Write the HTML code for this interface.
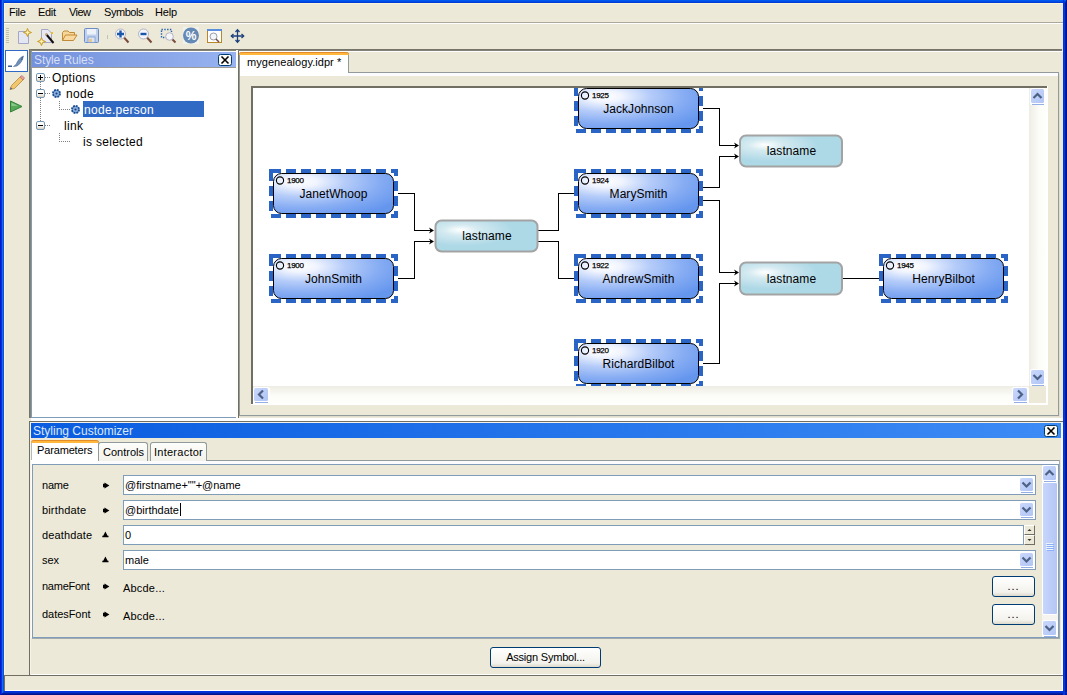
<!DOCTYPE html>
<html>
<head>
<meta charset="utf-8">
<title>Style Rules</title>
<style>
html,body{margin:0;padding:0;}
body{width:1067px;height:695px;overflow:hidden;background:#ECE9D8;font-family:"Liberation Sans",sans-serif;font-size:11px;color:#000;position:relative;}
.abs{position:absolute;box-sizing:content-box;}
.wb{position:absolute;z-index:50;}
.hl{position:absolute;height:1px;}
.vl{position:absolute;width:1px;}
.menu span{position:absolute;top:6px;font-size:11px;}
.t{position:absolute;white-space:nowrap;line-height:1.15;}
.tah{font-size:11px;}
.tr{font-size:12px;letter-spacing:0.3px;margin-top:2px;}
.trk{background:#F5F4EF;}
.trkv{background:linear-gradient(90deg,#EEEDE5,#F4F3EC 25%,#FCFCF9 60%,#FEFEFB);}
.trkh{background:linear-gradient(#EEEDE5,#F4F3EC 25%,#FCFCF9 60%,#FEFEFB);}
.tab2{background:linear-gradient(#FDFDFB,#F3F2EA);border:1px solid #919B9C;border-bottom:none;border-radius:3px 3px 0 0;}
.fld{background:#fff;border:1px solid #7F9DB9;}
.spn{width:9px;height:8px;border:1px solid #fff;border-right-color:#716F64;border-bottom-color:#716F64;background:#ECE9D8;}
.xbtn{border:1px solid #003C74;border-radius:3px;background:linear-gradient(#FFFFFF,#F3F2EC 80%,#DCD8CB);text-align:center;font-size:11px;line-height:19px;letter-spacing:-0.2px;}
</style>
</head>
<body>
<div class="wb" style="left:0;top:0px;width:1067px;height:1px;background:#0058EE"></div>
<div class="wb" style="left:0;top:1px;width:1067px;height:1px;background:#004CE4"></div>
<div class="wb" style="left:0;top:2px;width:1067px;height:1px;background:#003DD7"></div>
<div class="wb" style="left:0;top:691px;width:1067px;height:1px;background:#0033E0"></div>
<div class="wb" style="left:0;top:692px;width:1067px;height:1px;background:#002FD0"></div>
<div class="wb" style="left:0;top:693px;width:1067px;height:1px;background:#0020A8"></div>
<div class="wb" style="left:0;top:694px;width:1067px;height:1px;background:#00138C"></div>
<div class="wb" style="left:0px;top:0;width:1px;height:695px;background:#0019CF"></div>
<div class="wb" style="left:1px;top:0;width:1px;height:694px;background:#0831D9"></div>
<div class="wb" style="left:2px;top:0;width:1px;height:693px;background:#166AEE"></div>
<div class="wb" style="left:3px;top:0;width:1px;height:692px;background:#0855DD"></div>
<div class="wb" style="left:1063px;top:0px;width:1px;height:695px;background:#0033E0"></div>
<div class="wb" style="left:1064px;top:1px;width:1px;height:694px;background:#003DD8"></div>
<div class="wb" style="left:1065px;top:2px;width:1px;height:693px;background:#0019A8"></div>
<div class="wb" style="left:1066px;top:0px;width:1px;height:692px;background:#00138C"></div>
<div class="hl" style="left:4px;top:3px;width:1059px;background:#FBF3DC"></div>
<div class="vl" style="left:4px;top:3px;height:672px;background:#FBF3DC"></div>

<!-- menu bar -->
<div class="menu">
<span style="left:9px;letter-spacing:-0.3px">File</span>
<span style="left:38px;letter-spacing:-0.3px">Edit</span>
<span style="left:69px;letter-spacing:-0.55px">View</span>
<span style="left:104px;letter-spacing:-0.45px">Symbols</span>
<span style="left:155px;letter-spacing:-0.15px">Help</span>
</div>
<div class="hl" style="left:4px;top:22px;width:1059px;background:#ACA899"></div>
<div class="hl" style="left:4px;top:23px;width:1059px;background:#fff"></div>

<!-- toolbar -->
<svg class="abs" style="left:4px;top:24px" width="250" height="24" viewBox="4 24 250 24">
  <!-- grip -->
  <g stroke="#C2BFAF" stroke-width="1" shape-rendering="crispEdges">
    <line x1="6" y1="28.5" x2="9" y2="28.5"/><line x1="6" y1="30.5" x2="9" y2="30.5"/><line x1="6" y1="32.5" x2="9" y2="32.5"/><line x1="6" y1="34.5" x2="9" y2="34.5"/><line x1="6" y1="36.5" x2="9" y2="36.5"/><line x1="6" y1="38.5" x2="9" y2="38.5"/><line x1="6" y1="40.5" x2="9" y2="40.5"/><line x1="6" y1="42.5" x2="9" y2="42.5"/>
  </g>
  <!-- new -->
  <path d="M18.5 31.5 H26 V34 H28.5 V43.5 H18.5 Z" fill="#E4E6F4" stroke="#A4A8C4"/>
  <path d="M27.5 28.5 L28.6 31.4 L31.5 32.5 L28.6 33.6 L27.5 36.5 L26.4 33.6 L23.5 32.5 L26.4 31.4 Z" fill="#FFF2B0" stroke="#C79A24" stroke-width="1"/>
  <!-- wizard -->
  <path d="M41.5 29.5 H48 L51.5 33 V42.5 H41.5 Z" fill="#E8E8F2" stroke="#A4A8C4"/>
  <path d="M46 34 L53.5 43" stroke="#111" stroke-width="2"/>
  <path d="M45.5 33.5 L47 35.2" stroke="#C8A878" stroke-width="2"/>
  <path d="M51 32 L53 34 M53 32 L51 34" stroke="#E8C020" stroke-width="1"/>
  <path d="M41.5 37.5 L42.6 40.4 L45.5 41.5 L42.6 42.6 L41.5 45.5 L40.4 42.6 L37.5 41.5 L40.4 40.4 Z" fill="#FFF2B0" stroke="#C79A24" stroke-width="1"/>
  <!-- open folder -->
  <path d="M62.500 40.500 V32.500 L64 31 H68 L69.500 32.500 H74.500 V35" fill="#F6D79A" stroke="#C28A34"/>
  <path d="M62.500 40.500 L65.500 35 H77 L73.500 40.500 Z" fill="#F9D9A0" stroke="#C28A34"/>
  <!-- save -->
  <rect x="84.500" y="28.500" width="14" height="14" rx="1" fill="#BFD0EC" stroke="#6C8CC8"/>
  <rect x="87" y="29" width="9" height="5.500" fill="#EDF1F8"/>
  <rect x="88" y="37" width="7" height="5.500" fill="#DCE4F0" stroke="#7F9AD0" stroke-width="0.800"/>
  <rect x="89" y="39" width="3" height="3" fill="#E8C890"/>
  <line x1="107.500" y1="35" x2="107.500" y2="39" stroke="#C5C2B2"/>
  <!-- zoom in -->
  <line x1="124" y1="37.500" x2="128.500" y2="42.500" stroke="#7B4B3A" stroke-width="2"/>
  <circle cx="120.500" cy="34" r="5" fill="#F4F6FA" stroke="#B4B4C6"/>
  <path d="M117 34 H124 M120.500 30.500 V37.500" stroke="#1B56A8" stroke-width="2.400"/>
  <!-- zoom out -->
  <line x1="147" y1="37.500" x2="151.500" y2="42.500" stroke="#7B4B3A" stroke-width="2"/>
  <circle cx="143.500" cy="34" r="5" fill="#F4F6FA" stroke="#B4B4C6"/>
  <path d="M140.500 34 H146.500" stroke="#1B56A8" stroke-width="2.400"/>
  <!-- zoom box -->
  <rect x="161.500" y="29.500" width="10" height="8" fill="none" stroke="#2A64B4" stroke-width="1.400" stroke-dasharray="1.400 1.400"/>
  <line x1="172" y1="39" x2="175.500" y2="42.500" stroke="#7B4B3A" stroke-width="2"/>
  <circle cx="169.500" cy="36.500" r="3.800" fill="#F4F6FA" stroke="#B4B4C6"/>
  <!-- percent -->
  <rect x="183" y="27" width="16" height="17" fill="#F2F2EC"/>
  <circle cx="191" cy="35.500" r="8" fill="#6389B4"/>
  <text x="191" y="40" font-size="12" font-weight="bold" fill="#fff" text-anchor="middle" font-family="Liberation Sans, sans-serif">%</text>
  <!-- fit -->
  <rect x="207.500" y="29.500" width="14" height="13" fill="#fff" stroke="#B8862C"/>
  <rect x="207" y="29" width="15" height="2" fill="#5B8EDC"/>
  <circle cx="213.500" cy="36.500" r="3.500" fill="#F4F6FA" stroke="#9C9CA8"/>
  <line x1="216" y1="39" x2="219" y2="42" stroke="#7B4B3A" stroke-width="1.500"/>
  <!-- move -->
  <g fill="none" stroke="#1D3F7E" stroke-width="1.300">
    <path d="M237.500 30 V42 M231.500 36 H243.500"/>
    <path d="M235.500 32 L237.500 29.800 L239.500 32 M235.500 40 L237.500 42.200 L239.500 40 M233.500 34 L231.300 36 L233.500 38 M241.500 34 L243.700 36 L241.500 38"/>
  </g>
</svg>
<!-- left tool strip -->
<div class="abs" style="left:5px;top:50px;width:21px;height:20px;background:#fff;border:1px solid #316AC5"></div>
<svg class="abs" style="left:4px;top:50px" width="26" height="66" viewBox="4 50 26 66">
  <!-- feather -->
  <path d="M23.500 56 C20 57 17.500 61 16 64.500 L13.500 66.500 L17 66 C20.500 64 22.500 60.500 23.500 56 Z" fill="#6F8FB8" stroke="#4F6F9C" stroke-width="0.600"/>
  <path d="M22.500 57 L21.500 59.500 L23 59" stroke="#3E5A84" stroke-width="0.800" fill="none"/>
  <rect x="8" y="65.500" width="4" height="1.500" fill="#3F5F94"/>
  <!-- pencil -->
  <path d="M10 89.500 L11.500 85.500 L20.500 76.500 L23.500 79.500 L14.500 88.500 Z" fill="#F2C66E" stroke="#B98A3A" stroke-width="0.800"/>
  <path d="M20 77 L22 75.500 L24.500 78 L23 80 Z" fill="#E8A0A0" stroke="#B06060" stroke-width="0.600"/>
  <path d="M10 89.500 L10.800 87.300 L12.300 88.800 Z" fill="#3A5A9A"/>
  <!-- play -->
  <path d="M10.500 101 L22 106.500 L10.500 112 Z" fill="#58A85C" stroke="#2F8436" stroke-width="1"/>
  <path d="M11.500 102.700 L18 105.800 L11.500 106 Z" fill="#8CCB8E"/>
</svg>

<!-- Style rules panel -->
<div class="hl" style="left:29px;top:49px;width:1033px;height:2px;background:linear-gradient(#716F64,#8A887A)"></div>
<div class="vl" style="left:29px;top:49px;width:2px;height:369px;background:linear-gradient(90deg,#716F64,#8A887A)"></div>
<div class="hl" style="left:31px;top:51px;width:1032px;background:#fff"></div>
<div class="abs" style="left:31px;top:51px;width:204px;height:366px;background:#fff;border-right:1px solid #A5ACB2;border-bottom:1px solid #7F9DB9;border-left:1px solid #7F9DB9"></div>
<div class="abs" id="rhdr" style="left:32px;top:52px;width:204px;height:15px;background:linear-gradient(90deg,#7391DC,#98B3F0);"></div>
<div class="hl" style="left:32px;top:67px;width:204px;height:1px;background:#9C9C90"></div>
<div class="t" style="left:34px;top:54px;font-size:12px;color:#D6DFF5;letter-spacing:-0.1px">Style Rules</div>
<svg class="abs" style="left:218px;top:54px" width="14" height="12" viewBox="0 0 14 12"><rect x="0.500" y="0.500" width="13" height="11" rx="2" fill="#FBFAF6" stroke="#003C74"/><path d="M3.500 2.500 L10.500 9.500 M10.500 2.500 L3.500 9.500" stroke="#000" stroke-width="1.600"/></svg>

<!-- tree -->
<svg class="abs" style="left:32px;top:68px" width="203" height="90" viewBox="32 68 203 90">
  <defs><linearGradient id="ebx" x1="0" y1="0" x2="0" y2="1"><stop offset="0" stop-color="#fff"/><stop offset="0.5" stop-color="#FBFAF7"/><stop offset="1" stop-color="#D4CCB8"/></linearGradient></defs>
  <g stroke="#808080" stroke-width="1" stroke-dasharray="1 1" fill="none" shape-rendering="crispEdges">
    <path d="M40.500 82 V89 M40.500 98 V121"/>
    <path d="M45 77.500 H50 M45 93.500 H50 M45 125.500 H50"/>
    <path d="M59.500 101 V109.500 H70"/>
    <path d="M59.500 133 V141.500 H70"/>
  </g>
  <g>
    <rect x="36.500" y="73.500" width="8" height="8" rx="1.500" fill="url(#ebx)" stroke="#7898B5"/>
    <path d="M38 77.500 H43 M40.500 75 V80" stroke="#000"/>
    <rect x="36.500" y="89.500" width="8" height="8" rx="1.500" fill="url(#ebx)" stroke="#7898B5"/>
    <path d="M38 93.500 H43" stroke="#000"/>
    <rect x="36.500" y="121.500" width="8" height="8" rx="1.500" fill="url(#ebx)" stroke="#7898B5"/>
    <path d="M38 125.500 H43" stroke="#000"/>
  </g>
  <g>
    <circle cx="56.500" cy="93.500" r="3.600" fill="#6C9AD2" stroke="#1A4A8C" stroke-width="1.700" stroke-dasharray="1.900 0.900"/>
    <circle cx="56.500" cy="93.500" r="1.900" fill="#5E8CC6" stroke="#A8C4E8" stroke-width="0.700"/>
    <circle cx="56.500" cy="93.500" r="0.800" fill="#1E3E70"/>
    <circle cx="75.500" cy="109.500" r="3.600" fill="#6C9AD2" stroke="#1A4A8C" stroke-width="1.700" stroke-dasharray="1.900 0.900"/>
    <circle cx="75.500" cy="109.500" r="1.900" fill="#5E8CC6" stroke="#A8C4E8" stroke-width="0.700"/>
    <circle cx="75.500" cy="109.500" r="0.800" fill="#1E3E70"/>
  </g>
</svg>
<div class="abs" style="left:83px;top:101px;width:121px;height:16px;background:#316AC5"></div>
<div class="t tr" style="left:52px;top:70px">Options</div>
<div class="t tr" style="left:66px;top:86px">node</div>
<div class="t tr" style="left:84px;top:102px;color:#fff">node.person</div>
<div class="t tr" style="left:64px;top:118px">link</div>
<div class="t tr" style="left:83px;top:134px">is selected</div>
<!-- main tab pane -->
<div class="vl" style="left:236px;top:50px;width:2px;height:368px;background:#FFFEF6"></div>
<div class="vl" style="left:238px;top:51px;width:1px;height:367px;background:#716F64"></div>
<div class="abs" style="left:239px;top:72px;width:818px;height:342px;border:1px solid #919B9C;border-right-color:#919B9C;box-sizing:content-box;background:#ECE9D8"></div>
<div class="abs" style="left:240px;top:73px;width:818px;height:3px;background:#FCFCFE"></div>
<div class="hl" style="left:240px;top:416px;width:820px;background:#E0DDCE"></div>
<div class="vl" style="left:1059px;top:74px;height:343px;background:#E0DDCE"></div>
<div class="abs" style="left:239px;top:52px;width:108px;height:21px;background:#fff;border:1px solid #919B9C;border-bottom:none;border-top:none;border-radius:3px 3px 0 0"></div>
<div class="abs" style="left:240px;top:72px;width:108px;height:4px;background:#fff"></div>
<div class="abs" style="left:239px;top:52px;width:110px;height:3px;background:#FFB83C;border-radius:3px 3px 0 0;border-top:1px solid #E68B2C;box-sizing:border-box"></div>
<div class="t tah" style="left:247px;top:56px;letter-spacing:0.05px">mygenealogy.idpr *</div>
<div class="abs" style="left:251px;top:86px;width:797px;height:319px;background:#fff"></div>
<div class="abs" style="left:251px;top:86px;width:796px;height:2px;background:#716F64"></div>
<div class="abs" style="left:251px;top:86px;width:2px;height:318px;background:#716F64"></div>
<div class="abs trkv" style="left:1029px;top:88px;width:17px;height:298px"></div>
<div class="abs trkh" style="left:253px;top:386px;width:776px;height:17px"></div>
<div class="abs" style="left:1029px;top:386px;width:17px;height:17px;background:#ECE9D8"></div>
<svg width="0" height="0" style="position:absolute"><defs><linearGradient id="sbg" x1="0" y1="0" x2="1" y2="1"><stop offset="0" stop-color="#CAD8FC"/><stop offset="1" stop-color="#B0C4F4"/></linearGradient></defs></svg>
<svg class="abs" style="left:1030px;top:88px" width="16" height="17" viewBox="0 0 16 17"><rect x="0" y="0" width="16" height="17" rx="2.500" fill="#fff"/><rect x="1" y="1" width="13" height="14" rx="1.500" fill="url(#sbg)"/><path d="M2 16.5 H14" stroke="#94AEE6" stroke-width="1"/><path d="M-4 2 L0 -2 L4 2" transform="translate(7.5 8)" fill="none" stroke="#4D6185" stroke-width="2.200"/></svg>
<svg class="abs" style="left:1030px;top:369px" width="16" height="17" viewBox="0 0 16 17"><rect x="0" y="0" width="16" height="17" rx="2.500" fill="#fff"/><rect x="1" y="1" width="13" height="14" rx="1.500" fill="url(#sbg)"/><path d="M2 16.5 H14" stroke="#94AEE6" stroke-width="1"/><path d="M-4 -2 L0 2 L4 -2" transform="translate(7.5 8)" fill="none" stroke="#4D6185" stroke-width="2.200"/></svg>
<svg class="abs" style="left:253px;top:387px" width="17" height="16" viewBox="0 0 17 16"><rect x="0" y="0" width="17" height="16" rx="2.500" fill="#fff"/><rect x="1" y="1" width="14" height="13" rx="1.500" fill="url(#sbg)"/><path d="M2 15.5 H15" stroke="#94AEE6" stroke-width="1"/><path d="M2 -4 L-2 0 L2 4" transform="translate(8 7.5)" fill="none" stroke="#4D6185" stroke-width="2.200"/></svg>
<svg class="abs" style="left:1012px;top:387px" width="17" height="16" viewBox="0 0 17 16"><rect x="0" y="0" width="17" height="16" rx="2.500" fill="#fff"/><rect x="1" y="1" width="14" height="13" rx="1.500" fill="url(#sbg)"/><path d="M2 15.5 H15" stroke="#94AEE6" stroke-width="1"/><path d="M-2 -4 L2 0 L-2 4" transform="translate(8 7.5)" fill="none" stroke="#4D6185" stroke-width="2.200"/></svg>
<svg class="abs" style="left:253px;top:88px" width="776" height="298" viewBox="253 88 776 298" font-family="Liberation Sans, sans-serif">
<defs>
<radialGradient id="gp" cx="0.22" cy="0.2" r="0.95"><stop offset="0" stop-color="#FFFFFF"/><stop offset="0.15" stop-color="#F0F4FE"/><stop offset="0.4" stop-color="#B5CCF9"/><stop offset="0.7" stop-color="#86ACF3"/><stop offset="1" stop-color="#6596EE"/></radialGradient>
<radialGradient id="gl" cx="0.27" cy="0.33" r="0.5" fx="0.24" fy="0.3"><stop offset="0" stop-color="#FFFFFF"/><stop offset="0.35" stop-color="#D4EAF1"/><stop offset="1" stop-color="#ADD8E6"/></radialGradient>
</defs>
<g fill="none" stroke="#000" stroke-width="1" shape-rendering="crispEdges">
<path d="M398 193.5 H414.5 V230.5 H432"/>
<path d="M398 278.5 H414.5 V241.5 H432"/>
<path d="M538 230.5 H558.5 V193.5 H576"/>
<path d="M538 241.5 H558.5 V278.5 H576"/>
<path d="M703 108.5 H719.5 V145.5 H737"/>
<path d="M703 187.5 H719.5 V156.5 H737"/>
<path d="M703 200.5 H719.5 V272.5 H737"/>
<path d="M703 363.5 H719.5 V283.5 H737"/>
<path d="M843 278.5 H881"/>
</g>
<path d="M0 0 L-5 -3 L-3.500 0 L-5 3 Z" transform="translate(434 230.5)" fill="#000"/>
<path d="M0 0 L-5 -3 L-3.500 0 L-5 3 Z" transform="translate(434 241.5)" fill="#000"/>
<path d="M0 0 L-5 -3 L-3.500 0 L-5 3 Z" transform="translate(739 145.5)" fill="#000"/>
<path d="M0 0 L-5 -3 L-3.500 0 L-5 3 Z" transform="translate(739 156.5)" fill="#000"/>
<path d="M0 0 L-5 -3 L-3.500 0 L-5 3 Z" transform="translate(739 272.5)" fill="#000"/>
<path d="M0 0 L-5 -3 L-3.500 0 L-5 3 Z" transform="translate(739 283.5)" fill="#000"/>
<rect x="435.5" y="220.5" width="102" height="31" rx="6" fill="url(#gl)" stroke="#A3A3A3" stroke-width="2"/>
<text x="487" y="240" font-size="12" text-anchor="middle" letter-spacing="0.1">lastname</text>
<rect x="740" y="135.5" width="102" height="31" rx="6" fill="url(#gl)" stroke="#A3A3A3" stroke-width="2"/>
<text x="791.5" y="155" font-size="12" text-anchor="middle" letter-spacing="0.1">lastname</text>
<rect x="740" y="262.5" width="102" height="32" rx="6" fill="url(#gl)" stroke="#A3A3A3" stroke-width="2"/>
<text x="791.5" y="282.5" font-size="12" text-anchor="middle" letter-spacing="0.1">lastname</text>
<rect x="271" y="171" width="125" height="45" fill="none" stroke="#2A64C4" stroke-width="4" stroke-dasharray="10 5"/>
<rect x="273.5" y="173.5" width="120" height="40" rx="8" fill="url(#gp)" stroke="#000" stroke-width="1"/>
<circle cx="280" cy="180.5" r="3.600" fill="none" stroke="#000" stroke-width="1.100"/>
<text x="287" y="183" font-size="8" letter-spacing="-0.3" stroke="#000" stroke-width="0.250">1900</text>
<text x="333.5" y="197.5" font-size="12" text-anchor="middle" letter-spacing="0.05">JanetWhoop</text>
<rect x="271" y="256" width="125" height="45" fill="none" stroke="#2A64C4" stroke-width="4" stroke-dasharray="10 5"/>
<rect x="273.5" y="258.5" width="120" height="40" rx="8" fill="url(#gp)" stroke="#000" stroke-width="1"/>
<circle cx="280" cy="265.5" r="3.600" fill="none" stroke="#000" stroke-width="1.100"/>
<text x="287" y="268" font-size="8" letter-spacing="-0.3" stroke="#000" stroke-width="0.250">1900</text>
<text x="333.5" y="282.5" font-size="12" text-anchor="middle" letter-spacing="0.05">JohnSmith</text>
<rect x="576" y="86" width="125" height="45" fill="none" stroke="#2A64C4" stroke-width="4" stroke-dasharray="10 5"/>
<rect x="578.5" y="88.5" width="120" height="40" rx="8" fill="url(#gp)" stroke="#000" stroke-width="1"/>
<circle cx="585" cy="95.5" r="3.600" fill="none" stroke="#000" stroke-width="1.100"/>
<text x="592" y="98" font-size="8" letter-spacing="-0.3" stroke="#000" stroke-width="0.250">1925</text>
<text x="638.5" y="112.5" font-size="12" text-anchor="middle" letter-spacing="0.05">JackJohnson</text>
<rect x="576" y="171" width="125" height="45" fill="none" stroke="#2A64C4" stroke-width="4" stroke-dasharray="10 5"/>
<rect x="578.5" y="173.5" width="120" height="40" rx="8" fill="url(#gp)" stroke="#000" stroke-width="1"/>
<circle cx="585" cy="180.5" r="3.600" fill="none" stroke="#000" stroke-width="1.100"/>
<text x="592" y="183" font-size="8" letter-spacing="-0.3" stroke="#000" stroke-width="0.250">1924</text>
<text x="638.5" y="197.5" font-size="12" text-anchor="middle" letter-spacing="0.05">MarySmith</text>
<rect x="576" y="256" width="125" height="45" fill="none" stroke="#2A64C4" stroke-width="4" stroke-dasharray="10 5"/>
<rect x="578.5" y="258.5" width="120" height="40" rx="8" fill="url(#gp)" stroke="#000" stroke-width="1"/>
<circle cx="585" cy="265.5" r="3.600" fill="none" stroke="#000" stroke-width="1.100"/>
<text x="592" y="268" font-size="8" letter-spacing="-0.3" stroke="#000" stroke-width="0.250">1922</text>
<text x="638.5" y="282.5" font-size="12" text-anchor="middle" letter-spacing="0.05">AndrewSmith</text>
<rect x="576" y="341" width="125" height="45" fill="none" stroke="#2A64C4" stroke-width="4" stroke-dasharray="10 5"/>
<rect x="578.5" y="343.5" width="120" height="40" rx="8" fill="url(#gp)" stroke="#000" stroke-width="1"/>
<circle cx="585" cy="350.5" r="3.600" fill="none" stroke="#000" stroke-width="1.100"/>
<text x="592" y="353" font-size="8" letter-spacing="-0.3" stroke="#000" stroke-width="0.250">1920</text>
<text x="638.5" y="367.5" font-size="12" text-anchor="middle" letter-spacing="0.05">RichardBilbot</text>
<rect x="881" y="256" width="125" height="45" fill="none" stroke="#2A64C4" stroke-width="4" stroke-dasharray="10 5"/>
<rect x="883.5" y="258.5" width="120" height="40" rx="8" fill="url(#gp)" stroke="#000" stroke-width="1"/>
<circle cx="890" cy="265.5" r="3.600" fill="none" stroke="#000" stroke-width="1.100"/>
<text x="897" y="268" font-size="8" letter-spacing="-0.3" stroke="#000" stroke-width="0.250">1945</text>
<text x="943.5" y="282.5" font-size="12" text-anchor="middle" letter-spacing="0.05">HenryBilbot</text>
</svg>
<!-- customizer -->
<div class="hl" style="left:31px;top:418px;width:1032px;height:3px;background:#fff"></div>
<div class="vl" style="left:1061px;top:418px;width:2px;height:257px;background:#FAF9F2"></div>
<div class="hl" style="left:29px;top:421px;width:1034px;height:1px;background:#716F64"></div>
<div class="hl" style="left:31px;top:422px;width:1032px;height:1px;background:#F4F2E8"></div>
<div class="vl" style="left:29px;top:421px;width:1px;height:254px;background:#716F64"></div>
<div class="vl" style="left:30px;top:422px;width:1px;height:252px;background:#F6F4EA"></div>
<div class="abs" id="chdr" style="left:31px;top:423px;width:1030px;height:15px;background:linear-gradient(90deg,#0A5CE0,#3D8BF5)"></div>
<div class="t" style="left:33px;top:425px;font-size:12px;color:#DCE8FB;letter-spacing:0px">Styling Customizer</div>
<svg class="abs" style="left:1044px;top:425px" width="14" height="12" viewBox="0 0 14 12"><rect x="0.500" y="0.500" width="13" height="11" rx="2" fill="#FBFAF6" stroke="#003C74"/><path d="M3.500 2.500 L10.500 9.500 M10.500 2.500 L3.500 9.500" stroke="#000" stroke-width="1.600"/></svg>
<div class="abs" style="left:31px;top:461px;width:1028px;height:3px;background:#FCFCFE"></div>
<div class="hl" style="left:206px;top:460px;width:854px;background:#919B9C"></div>
<div class="vl" style="left:1059px;top:460px;height:179px;background:#A3ACAD"></div>
<div class="abs" style="left:31px;top:440px;width:66px;height:21px;background:#fff;border-left:1px solid #B4BAB8;border-right:1px solid #919B9C;border-radius:3px 3px 0 0"></div>
<div class="abs" style="left:31px;top:460px;width:67px;height:4px;background:#fff"></div>
<div class="abs" style="left:31px;top:440px;width:68px;height:3px;background:#FFB83C;border-top:1px solid #E68B2C;box-sizing:border-box;border-radius:3px 3px 0 0"></div>
<div class="abs tab2" style="left:98px;top:442px;width:48px;height:18px"></div>
<div class="abs tab2" style="left:150px;top:442px;width:55px;height:18px"></div>
<div class="t tah" style="left:37px;top:444px;letter-spacing:-0.15px">Parameters</div>
<div class="t tah" style="left:103px;top:446px">Controls</div>
<div class="t tah" style="left:154px;top:446px;letter-spacing:0.25px">Interactor</div>
<div class="abs" style="left:32px;top:464px;width:1025px;height:172px;border:1px solid #7F9DB9"></div>
<div class="hl" style="left:32px;top:638px;width:1028px;background:#A3ACAD"></div>
<div class="vl" style="left:31px;top:464px;height:174px;background:#FCFCFE"></div>
<div class="abs trk" style="left:1042px;top:465px;width:16px;height:172px"></div>
<svg class="abs" style="left:1042px;top:465px" width="16" height="17" viewBox="0 0 16 17"><rect x="0" y="0" width="16" height="17" rx="2.500" fill="#fff"/><rect x="1" y="1" width="13" height="14" rx="1.500" fill="url(#sbg)"/><path d="M2 16.5 H14" stroke="#94AEE6" stroke-width="1"/><path d="M-4 2 L0 -2 L4 2" transform="translate(7.5 8)" fill="none" stroke="#4D6185" stroke-width="2.200"/></svg>
<svg class="abs" style="left:1042px;top:620px" width="16" height="17" viewBox="0 0 16 17"><rect x="0" y="0" width="16" height="17" rx="2.500" fill="#fff"/><rect x="1" y="1" width="13" height="14" rx="1.500" fill="url(#sbg)"/><path d="M2 16.5 H14" stroke="#94AEE6" stroke-width="1"/><path d="M-4 -2 L0 2 L4 -2" transform="translate(7.5 8)" fill="none" stroke="#4D6185" stroke-width="2.200"/></svg>
<div class="abs" style="left:1042px;top:482px;width:14px;height:131px;border:1px solid #fff;border-radius:2px;background:linear-gradient(90deg,#C8D6FB,#BBCCF7 60%,#B4C6F3)"></div>
<svg class="abs" style="left:1046px;top:543px" width="8" height="9"><path d="M0 0.500 H7 M0 2.500 H7 M0 4.500 H7 M0 6.500 H7" stroke="#EEF4FE"/><path d="M1 1.500 H8 M1 3.500 H8 M1 5.500 H8 M1 7.500 H8" stroke="#8CB0F8"/></svg>
<div class="t tah" style="left:42px;top:479px;letter-spacing:-0.2px">name</div>
<svg class="abs" style="left:103px;top:482px" width="7" height="7"><path d="M0 1.800 H1.500 V0.600 L6.400 3.500 L1.500 6.400 V5.200 H0 Z" fill="#000"/></svg>
<div class="abs fld" style="left:123px;top:475px;width:911px;height:18px"></div>
<div class="t tah" style="left:125px;top:479px">@firstname+""+@name</div>
<svg class="abs" style="left:1019px;top:477px" width="16" height="16" viewBox="0 0 16 16"><rect x="0" y="0" width="16" height="16" rx="2.500" fill="#fff"/><rect x="1" y="1" width="13" height="13" rx="1.500" fill="url(#sbg)"/><path d="M2 15.5 H14" stroke="#94AEE6" stroke-width="1"/><path d="M-4 -2 L0 2 L4 -2" transform="translate(7.5 7.5)" fill="none" stroke="#4D6185" stroke-width="2.200"/></svg>
<div class="t tah" style="left:42px;top:504px;letter-spacing:0.15px">birthdate</div>
<svg class="abs" style="left:103px;top:507px" width="7" height="7"><path d="M0 1.800 H1.500 V0.600 L6.400 3.500 L1.500 6.400 V5.200 H0 Z" fill="#000"/></svg>
<div class="abs fld" style="left:123px;top:500px;width:911px;height:18px"></div>
<div class="t tah" style="left:125px;top:504px">@birthdate</div>
<svg class="abs" style="left:1019px;top:502px" width="16" height="16" viewBox="0 0 16 16"><rect x="0" y="0" width="16" height="16" rx="2.500" fill="#fff"/><rect x="1" y="1" width="13" height="13" rx="1.500" fill="url(#sbg)"/><path d="M2 15.5 H14" stroke="#94AEE6" stroke-width="1"/><path d="M-4 -2 L0 2 L4 -2" transform="translate(7.5 7.5)" fill="none" stroke="#4D6185" stroke-width="2.200"/></svg>
<div class="t tah" style="left:42px;top:529px;letter-spacing:0.15px">deathdate</div>
<svg class="abs" style="left:102px;top:531px" width="7" height="7"><path d="M0.300 6.300 V4.800 H1.200 L3.400 0.600 L5.600 4.800 H6.500 V6.300 Z" fill="#000"/></svg>
<div class="abs fld" style="left:123px;top:525px;width:899px;height:18px"></div>
<div class="t tah" style="left:125px;top:529px">0</div>
<div class="abs spn" style="left:1024px;top:525px"></div><div class="abs spn" style="left:1024px;top:535px"></div>
<svg class="abs" style="left:1027px;top:528px" width="5" height="14"><path d="M0.500 3 L2.500 1 L4.500 3 Z M0.500 11 L2.500 13 L4.500 11 Z" fill="#333"/></svg>
<div class="t tah" style="left:42px;top:554px;letter-spacing:0px">sex</div>
<svg class="abs" style="left:102px;top:556px" width="7" height="7"><path d="M0.300 6.300 V4.800 H1.200 L3.400 0.600 L5.600 4.800 H6.500 V6.300 Z" fill="#000"/></svg>
<div class="abs fld" style="left:123px;top:550px;width:911px;height:18px"></div>
<div class="t tah" style="left:125px;top:554px">male</div>
<svg class="abs" style="left:1019px;top:552px" width="16" height="16" viewBox="0 0 16 16"><rect x="0" y="0" width="16" height="16" rx="2.500" fill="#fff"/><rect x="1" y="1" width="13" height="13" rx="1.500" fill="url(#sbg)"/><path d="M2 15.5 H14" stroke="#94AEE6" stroke-width="1"/><path d="M-4 -2 L0 2 L4 -2" transform="translate(7.5 7.5)" fill="none" stroke="#4D6185" stroke-width="2.200"/></svg>
<div class="vl" style="left:180px;top:503px;height:13px;background:#000"></div>
<div class="t tah" style="left:42px;top:580px;letter-spacing:-0.25px">nameFont</div>
<svg class="abs" style="left:103px;top:583px" width="7" height="7"><path d="M0 1.800 H1.500 V0.600 L6.400 3.500 L1.500 6.400 V5.200 H0 Z" fill="#000"/></svg>
<div class="t tah" style="left:123px;top:582px;letter-spacing:0.2px">Abcde...</div>
<div class="abs xbtn" style="left:992px;top:576px;width:41px;height:19px"><span style="letter-spacing:1px">...</span></div>
<div class="t tah" style="left:42px;top:608px;letter-spacing:-0.05px">datesFont</div>
<svg class="abs" style="left:103px;top:611px" width="7" height="7"><path d="M0 1.800 H1.500 V0.600 L6.400 3.500 L1.500 6.400 V5.200 H0 Z" fill="#000"/></svg>
<div class="t tah" style="left:123px;top:610px;letter-spacing:0.2px">Abcde...</div>
<div class="abs xbtn" style="left:992px;top:604px;width:41px;height:19px"><span style="letter-spacing:1px">...</span></div>
<div class="abs xbtn" style="left:490px;top:647px;width:109px;height:19px"><span>Assign Symbol...</span></div>

<!-- status -->
<div class="hl" style="left:31px;top:674px;width:1032px;background:#fff"></div>
<div class="hl" style="left:4px;top:675px;width:1059px;background:#716F64"></div>
<div class="hl" style="left:5px;top:690px;width:1058px;background:#fff"></div>
<div class="vl" style="left:1062px;top:676px;height:15px;background:#fff"></div>
<div class="vl" style="left:4px;top:675px;height:16px;background:#716F64"></div>
</body>
</html>
